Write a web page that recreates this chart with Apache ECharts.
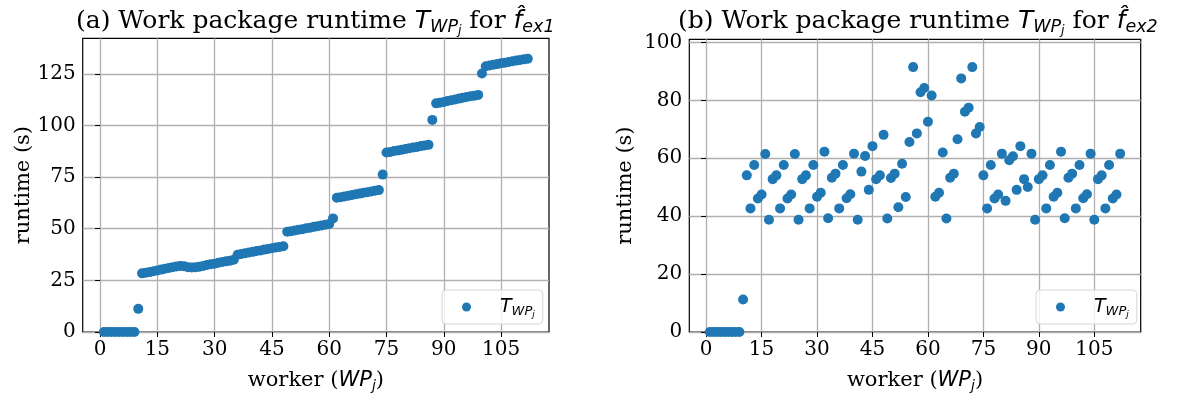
<!DOCTYPE html>
<html>
<head>
<meta charset="utf-8">
<script src="https://cdn.jsdelivr.net/npm/echarts@6/dist/echarts.min.js"></script>
<style>
  html, body { margin: 0; padding: 0; background: #fff; }
  #chart { width: 1181px; height: 398px; }
</style>
</head>
<body>
<div id="chart"></div>
<script>
// worker index WP_j, 1..112
const workers = Array.from({ length: 112 }, (_, i) => i + 1);

// (a) runtime for f_ex1
const runtimeEx1 = [
  0, 0, 0, 0, 0, 0, 0, 0, 0, 11.2,
  28.4, 28.7, 29.0, 29.4, 29.8, 30.2, 30.6, 31.0, 31.4, 31.7,
  32.0, 31.8, 31.4, 31.2, 31.3, 31.6, 32.0, 32.4, 32.8, 33.1,
  33.5, 33.9, 34.2, 34.5, 35.0, 37.4, 37.8, 38.1, 38.5, 38.8,
  39.2, 39.5, 39.9, 40.2, 40.6, 40.9, 41.2, 41.5, 48.5, 48.8,
  49.1, 49.5, 49.8, 50.2, 50.5, 50.9, 51.2, 51.6, 51.9, 52.3,
  55.0, 65.0, 65.3, 65.6, 66.0, 66.3, 66.7, 67.0, 67.4, 67.7,
  68.0, 68.4, 68.7, 76.2, 86.9, 87.2, 87.6, 87.9, 88.3, 88.6,
  89.0, 89.3, 89.6, 90.0, 90.3, 90.6, 102.7, 110.7, 111.0, 111.4,
  111.8, 112.2, 112.6, 113.0, 113.4, 113.8, 114.1, 114.4, 114.8, 125.2,
  128.7, 129.0, 129.4, 129.7, 130.1, 130.4, 130.7, 131.1, 131.4, 131.7,
  132.0, 132.3
];

// (b) runtime for f_ex2
const runtimeEx2 = [
  0, 0, 0, 0, 0, 0, 0, 0, 0, 11.2,
  54.1, 42.7, 57.7, 46.1, 47.5, 61.5, 38.8, 52.8, 54.1, 42.7,
  57.7, 46.1, 47.5, 61.5, 38.8, 52.8, 54.1, 42.7, 57.7, 46.7,
  48.1, 62.3, 39.3, 53.3, 54.7, 42.7, 57.7, 46.2, 47.6, 61.6,
  38.8, 55.4, 60.8, 49.1, 64.2, 52.8, 54.1, 68.1, 39.2, 53.2,
  54.7, 43.1, 58.1, 46.6, 65.6, 91.5, 68.6, 82.8, 84.3, 72.6,
  81.7, 46.7, 48.1, 62.0, 39.2, 53.3, 54.7, 66.6, 87.6, 76.1,
  77.5, 91.5, 68.6, 70.8, 54.1, 42.7, 57.7, 46.1, 47.5, 61.6,
  45.3, 59.3, 60.7, 49.1, 64.2, 52.8, 50.1, 61.6, 38.8, 52.8,
  54.1, 42.7, 57.7, 46.7, 48.1, 62.3, 39.3, 53.3, 54.7, 42.7,
  57.7, 46.2, 47.6, 61.6, 38.8, 52.8, 54.1, 42.7, 57.7, 46.1,
  47.5, 61.6
];

const xTicks = [0, 15, 30, 45, 60, 75, 90, 105];
const yTicksA = [0, 25, 50, 75, 100, 125];
const yTicksB = [0, 20, 40, 60, 80, 100];

const serif = 'DejaVu Serif';
const mathFont = 'DejaVu Sans';
const blue = '#1f77b4';

const chart = echarts.init(document.getElementById('chart'));

const titleRich = {
  r: { fontFamily: serif, fontWeight: 'normal', fontSize: 25, color: '#000', lineHeight: 30 },
  m: { fontFamily: mathFont, fontWeight: 'normal', fontStyle: 'italic', fontSize: 25, color: '#000', lineHeight: 30 },
  s: { fontFamily: mathFont, fontWeight: 'normal', fontStyle: 'italic', fontSize: 17.5, color: '#000', lineHeight: 30, padding: [12, 0, 0, 0] },
  ss: { fontFamily: mathFont, fontWeight: 'normal', fontStyle: 'italic', fontSize: 12.5, color: '#000', lineHeight: 30, padding: [20, 0, 0, 0] }
};
const legendRich = {
  t: { fontFamily: mathFont, fontStyle: 'italic', fontSize: 19, color: '#000', lineHeight: 22, padding: [0, 0, 0, 24] },
  s: { fontFamily: mathFont, fontStyle: 'italic', fontSize: 13, color: '#000', lineHeight: 22, padding: [9, 0, 0, 0] },
  ss: { fontFamily: mathFont, fontStyle: 'italic', fontSize: 9, color: '#000', lineHeight: 22, padding: [15, 0, 0, 0] }
};
const axisNameRich = {
  r: { fontFamily: serif, fontSize: 21, color: '#000', lineHeight: 24 },
  m: { fontFamily: mathFont, fontStyle: 'italic', fontSize: 21, color: '#000', lineHeight: 24 },
  s: { fontFamily: mathFont, fontStyle: 'italic', fontSize: 14, color: '#000', lineHeight: 24, padding: [10, 0, 0, 0] }
};

function xAxisFor(gridIndex) {
  return {
    type: 'value',
    gridIndex: gridIndex,
    min: -4.55,
    max: 117.55,
    name: '{r|worker (}{m|WP}{s|j}{r|)}',
    nameLocation: 'middle',
    nameGap: 37,
    nameTextStyle: { rich: axisNameRich },
    axisLine: { show: false },
    axisTick: { show: true, length: 5, inside: false, customValues: xTicks, lineStyle: { color: '#000', width: 1 } },
    axisLabel: { customValues: xTicks, fontFamily: serif, fontSize: 20, color: '#000', margin: 8 },
    splitLine: { show: true, lineStyle: { color: '#b0b0b0', width: 1.3 } }
  };
}

function yAxisFor(gridIndex, max, ticks, gap) {
  return {
    type: 'value',
    gridIndex: gridIndex,
    min: 0,
    max: max,
    name: 'runtime (s)',
    nameLocation: 'middle',
    nameGap: gap,
    nameTextStyle: { fontFamily: serif, fontSize: 21, color: '#000' },
    axisLine: { show: false },
    axisTick: { show: true, length: 5, customValues: ticks, lineStyle: { color: '#000', width: 1 } },
    axisLabel: { customValues: ticks, fontFamily: serif, fontSize: 20, color: '#000', margin: 7 },
    splitLine: { show: true, lineStyle: { color: '#b0b0b0', width: 1.3 } }
  };
}

function legendFor(name, left) {
  return {
    data: [name],
    left: left,
    top: 290,
    orient: 'vertical',
    icon: 'circle',
    itemWidth: 9,
    itemHeight: 9,
    padding: [5, 8, 5, 20],
    backgroundColor: 'rgba(255,255,255,0.8)',
    borderColor: '#d6d6d6',
    borderWidth: 1,
    borderRadius: 4,
    formatter: () => '{t|T}{s|WP}{ss|j}',
    textStyle: { rich: legendRich }
  };
}

chart.setOption({
  animation: false,
  backgroundColor: '#fff',
  title: [
    {
      text: '{r|(a) Work package runtime }{m|T}{s|WP}{ss|j}{r| for }{m|f\u0302}{s|ex1}',
      left: 71, top: 1,
      textStyle: { fontWeight: 'normal', rich: titleRich }
    },
    {
      text: '{r|(b) Work package runtime }{m|T}{s|WP}{ss|j}{r| for }{m|f\u0302}{s|ex2}',
      left: 673, top: 1,
      textStyle: { fontWeight: 'normal', rich: titleRich }
    }
  ],
  legend: [
    legendFor('a', 442),
    legendFor('b', 1036)
  ],
  grid: [
    { left: 82.7, right: 632, top: 38.3, bottom: 64.7, show: true, borderColor: '#000', borderWidth: 1.2, containLabel: false },
    { left: 689.3, right: 40.3, top: 39.3, bottom: 64.7, show: true, borderColor: '#000', borderWidth: 1.2, containLabel: false }
  ],
  xAxis: [xAxisFor(0), xAxisFor(1)],
  yAxis: [
    yAxisFor(0, 142.2, yTicksA, 45),
    yAxisFor(1, 101.1, yTicksB, 53)
  ],
  series: [
    {
      name: 'a',
      type: 'scatter',
      xAxisIndex: 0,
      yAxisIndex: 0,
      symbolSize: 10,
      itemStyle: { color: blue, opacity: 1 },
      data: workers.map((w, i) => [w, runtimeEx1[i]])
    },
    {
      name: 'b',
      type: 'scatter',
      xAxisIndex: 1,
      yAxisIndex: 1,
      symbolSize: 10,
      itemStyle: { color: blue, opacity: 1 },
      data: workers.map((w, i) => [w, runtimeEx2[i]])
    }
  ]
});
</script>
</body>
</html>
